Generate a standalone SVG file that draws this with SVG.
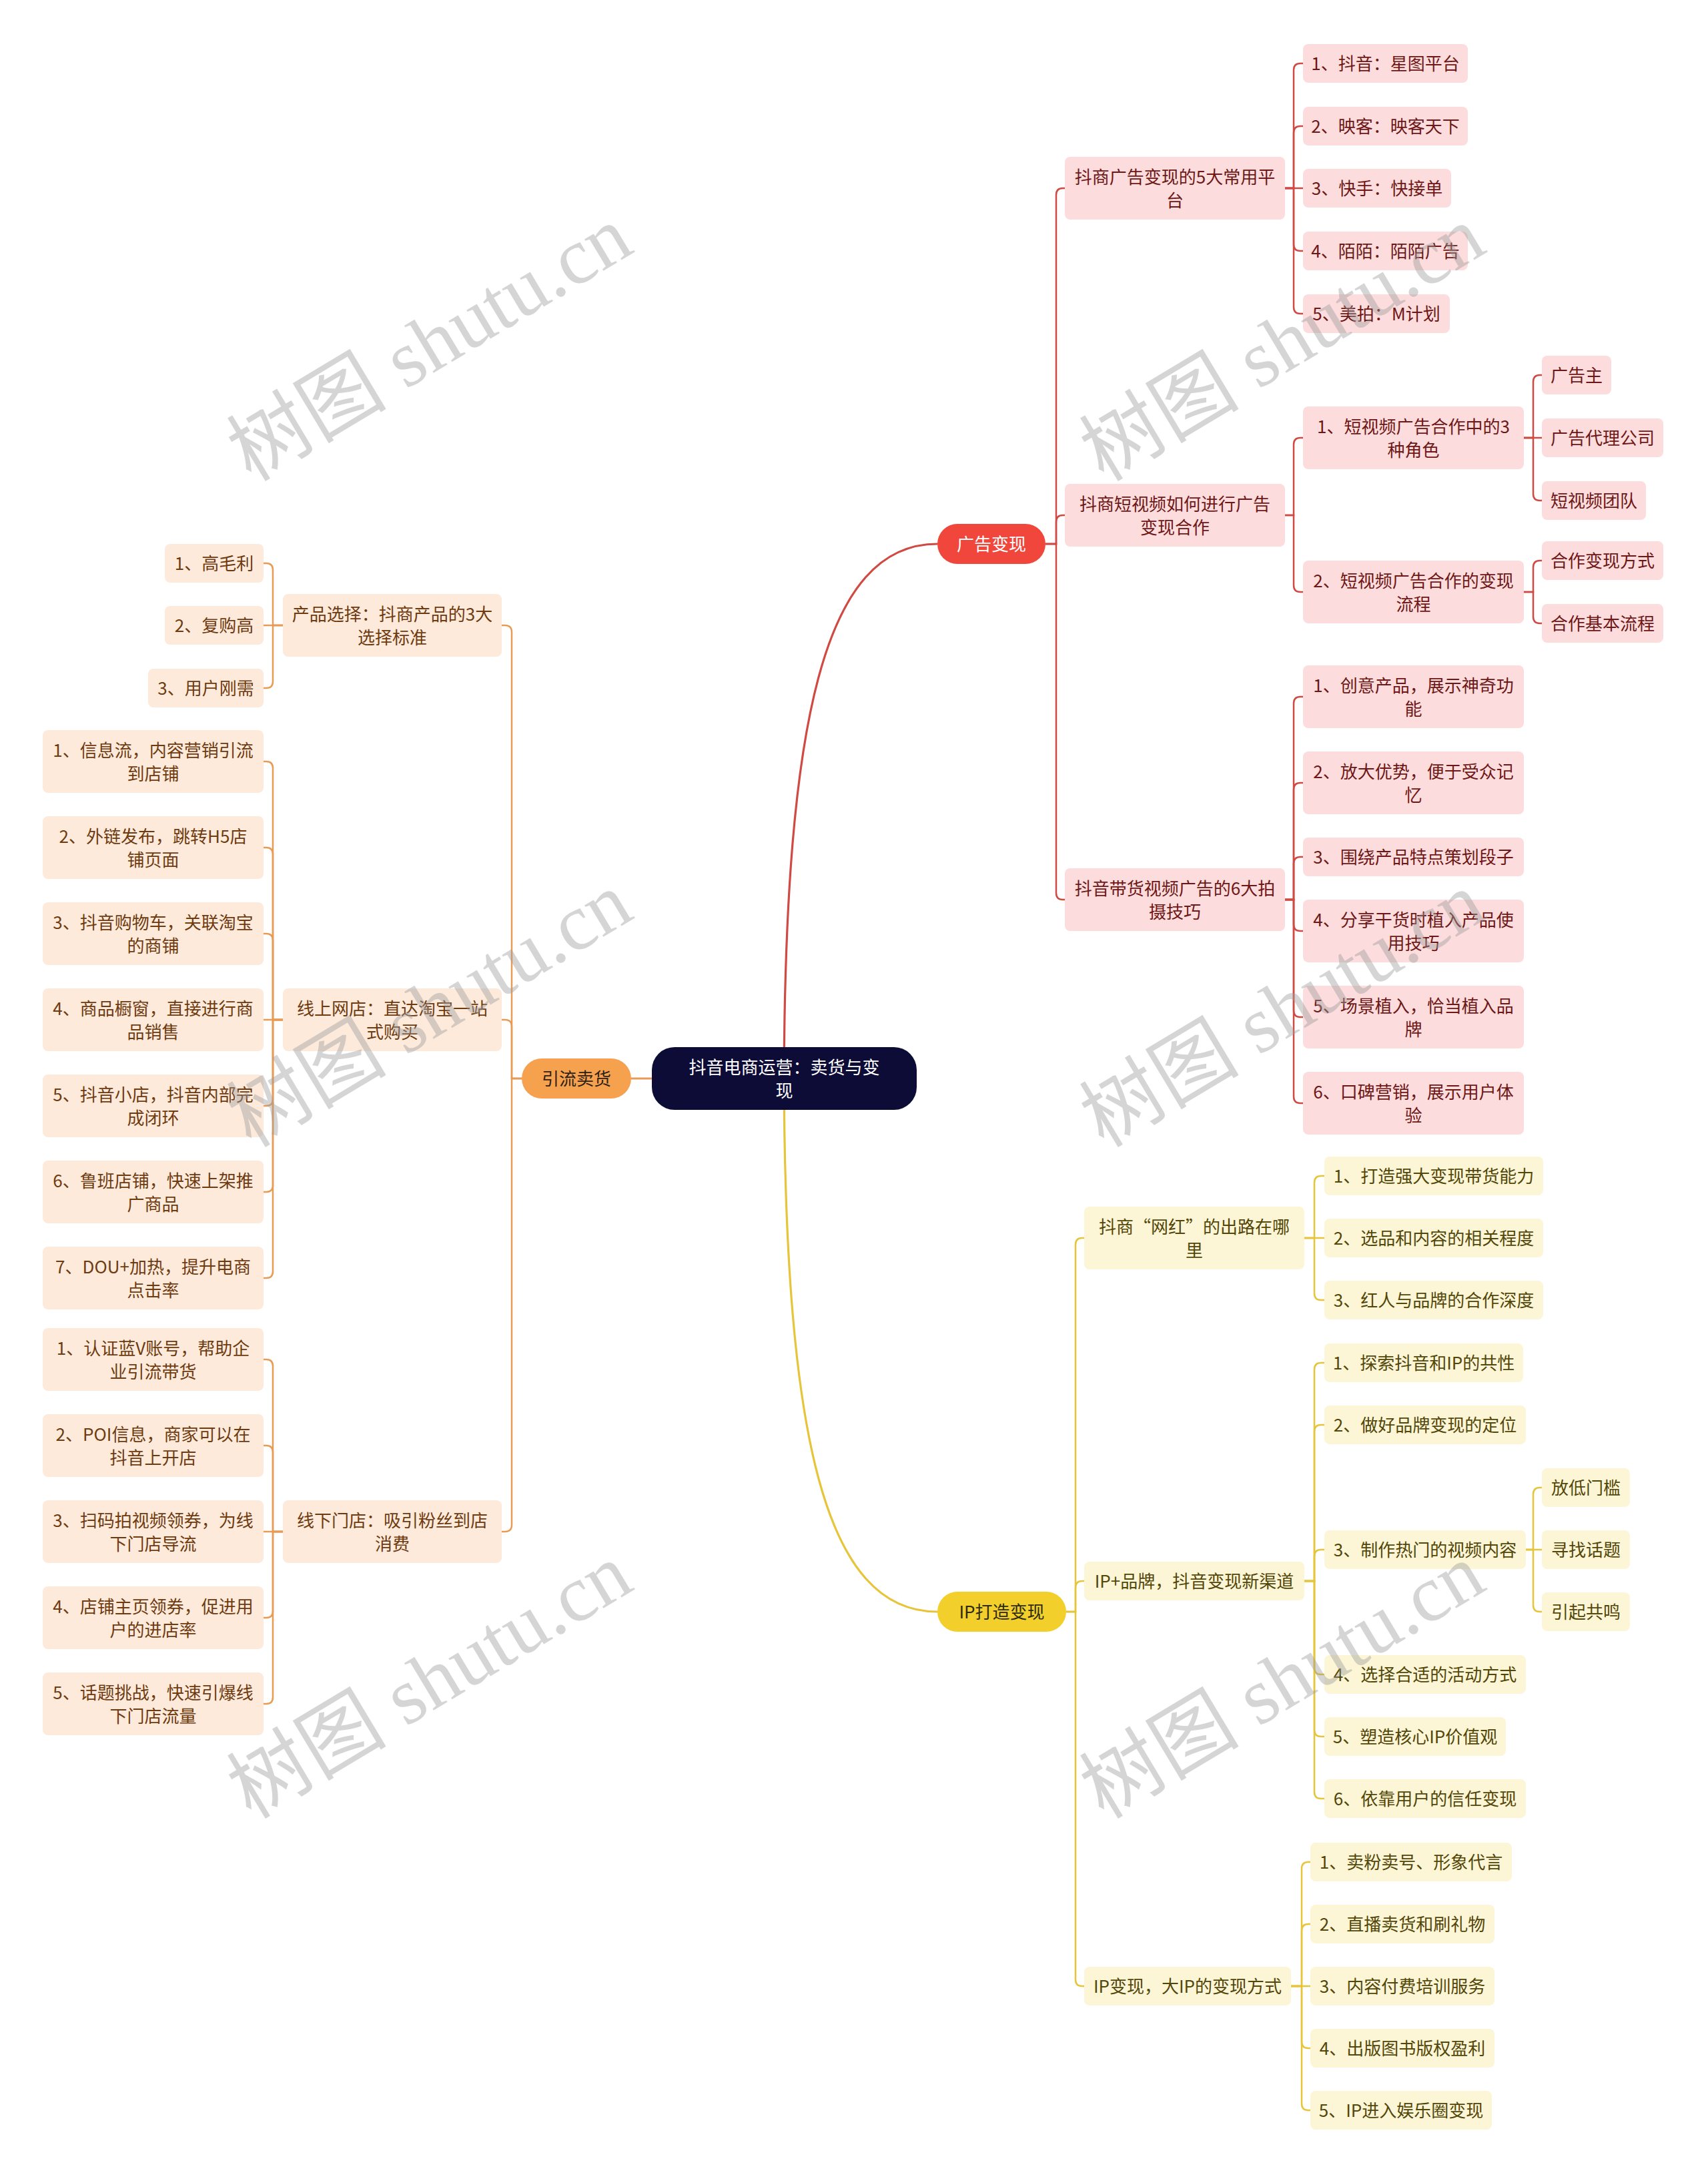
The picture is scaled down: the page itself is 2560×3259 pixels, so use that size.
<svg xmlns="http://www.w3.org/2000/svg" width="2560" height="3259" viewBox="0 0 2560 3259">
<style>
text{font-family:"Noto Sans CJK SC","Noto Sans",sans-serif;font-size:26px;text-anchor:middle;dominant-baseline:central}
.nd text{transform:translateY(-2px)}
.r rect{fill:#fcdcdc}.r text{fill:#6e1717}
.o rect{fill:#fdeadb}.o text{fill:#6e3b10}
.y rect{fill:#fcf5d6}.y text{fill:#524708}
.cr path{stroke:#d04a43}.co path{stroke:#e89b55}.cy path{stroke:#e6c53a}
.c path{fill:none;stroke-width:2.5}
.main{stroke-width:3.2 !important}
.wm{font-family:"Liberation Serif","Noto Sans CJK SC",serif;font-size:120px;fill:#9a9a9a;fill-opacity:0.42}
</style>
<rect width="2560" height="3259" fill="#ffffff"/>
<g id="connectors" class="c">
<g class="cr">
<path class="main" d="M1175 1616 C1177 1080 1235 815 1405 815"/>
<path d="M1567 815 H1583 V292 Q1583 282 1593 282 H1596"/>
<path d="M1567 815 H1583 V782 Q1583 772 1593 772 H1596"/>
<path d="M1567 815 H1583 V1338 Q1583 1348 1593 1348 H1596"/>
<path d="M1926 282 H1939 V105 Q1939 95 1949 95 H1953"/>
<path d="M1926 282 H1939 V199 Q1939 189 1949 189 H1953"/>
<path d="M1926 282 H1953"/>
<path d="M1926 282 H1939 V366 Q1939 376 1949 376 H1953"/>
<path d="M1926 282 H1939 V460 Q1939 470 1949 470 H1953"/>
<path d="M1926 772 H1939 V666 Q1939 656 1949 656 H1953"/>
<path d="M1926 772 H1939 V877 Q1939 887 1949 887 H1953"/>
<path d="M2284 656 H2298 V572 Q2298 562 2308 562 H2311"/>
<path d="M2284 656 H2311"/>
<path d="M2284 656 H2298 V740 Q2298 750 2308 750 H2311"/>
<path d="M2284 887 H2298 V850 Q2298 840 2308 840 H2311"/>
<path d="M2284 887 H2298 V924 Q2298 934 2308 934 H2311"/>
<path d="M1926 1348 H1939 V1054 Q1939 1044 1949 1044 H1953"/>
<path d="M1926 1348 H1939 V1183 Q1939 1173 1949 1173 H1953"/>
<path d="M1926 1348 H1939 V1294 Q1939 1284 1949 1284 H1953"/>
<path d="M1926 1348 H1939 V1385 Q1939 1395 1949 1395 H1953"/>
<path d="M1926 1348 H1939 V1514 Q1939 1524 1949 1524 H1953"/>
<path d="M1926 1348 H1939 V1643 Q1939 1653 1949 1653 H1953"/>
</g>
<g class="co">
<path class="main" d="M1175 1616 H946"/>
<path d="M782 1616 H767 V947 Q767 937 757 937 H752"/>
<path d="M782 1616 H767 V1538 Q767 1528 757 1528 H752"/>
<path d="M782 1616 H767 V2285 Q767 2295 757 2295 H752"/>
<path d="M424 937 H409 V854 Q409 844 399 844 H395"/>
<path d="M424 937 H395"/>
<path d="M424 937 H409 V1021 Q409 1031 399 1031 H395"/>
<path d="M424 1528 H409 V1151 Q409 1141 399 1141 H395"/>
<path d="M424 1528 H409 V1280 Q409 1270 399 1270 H395"/>
<path d="M424 1528 H409 V1409 Q409 1399 399 1399 H395"/>
<path d="M424 1528 H395"/>
<path d="M424 1528 H409 V1647 Q409 1657 399 1657 H395"/>
<path d="M424 1528 H409 V1776 Q409 1786 399 1786 H395"/>
<path d="M424 1528 H409 V1905 Q409 1915 399 1915 H395"/>
<path d="M424 2295 H409 V2047 Q409 2037 399 2037 H395"/>
<path d="M424 2295 H409 V2176 Q409 2166 399 2166 H395"/>
<path d="M424 2295 H395"/>
<path d="M424 2295 H409 V2414 Q409 2424 399 2424 H395"/>
<path d="M424 2295 H409 V2543 Q409 2553 399 2553 H395"/>
</g>
<g class="cy">
<path class="main" d="M1175 1616 C1177 2150 1235 2415 1405 2415"/>
<path d="M1598 2415 H1612 V1865 Q1612 1855 1622 1855 H1625"/>
<path d="M1598 2415 H1612 V2379 Q1612 2369 1622 2369 H1625"/>
<path d="M1598 2415 H1612 V2966 Q1612 2976 1622 2976 H1625"/>
<path d="M1955 1855 H1970 V1772 Q1970 1762 1980 1762 H1985"/>
<path d="M1955 1855 H1985"/>
<path d="M1955 1855 H1970 V1938 Q1970 1948 1980 1948 H1985"/>
<path d="M1955 2369 H1970 V2052 Q1970 2042 1980 2042 H1985"/>
<path d="M1955 2369 H1970 V2145 Q1970 2135 1980 2135 H1985"/>
<path d="M1955 2369 H1970 V2332 Q1970 2322 1980 2322 H1985"/>
<path d="M1955 2369 H1970 V2499 Q1970 2509 1980 2509 H1985"/>
<path d="M1955 2369 H1970 V2592 Q1970 2602 1980 2602 H1985"/>
<path d="M1955 2369 H1970 V2685 Q1970 2695 1980 2695 H1985"/>
<path d="M2287 2322 H2298 V2239 Q2298 2229 2308 2229 H2311"/>
<path d="M2287 2322 H2311"/>
<path d="M2287 2322 H2298 V2405 Q2298 2415 2308 2415 H2311"/>
<path d="M1935 2976 H1951 V2800 Q1951 2790 1961 2790 H1964"/>
<path d="M1935 2976 H1951 V2893 Q1951 2883 1961 2883 H1964"/>
<path d="M1935 2976 H1964"/>
<path d="M1935 2976 H1951 V3059 Q1951 3069 1961 3069 H1964"/>
<path d="M1935 2976 H1951 V3152 Q1951 3162 1961 3162 H1964"/>
</g>
</g>

<g class="nd">
<g id="root"><rect x="977" y="1569" width="397" height="94" rx="34" fill="#0c0c36"/><text x="1175.5" fill="#ffffff"><tspan x="1175.5" y="1598.5">抖音电商运营：卖货与变</tspan><tspan x="1175.5" y="1633.5">现</tspan></text></g>

<g id="n-ad"><rect x="1405" y="785" width="162" height="60" rx="30" fill="#f0463c"/><text x="1486" y="815" fill="#ffffff">广告变现</text></g>
<g id="n-traffic"><rect x="782" y="1586" width="164" height="60" rx="30" fill="#f5a14e"/><text x="864" y="1616" fill="#2e2218">引流卖货</text></g>
<g id="n-ip"><rect x="1405" y="2385" width="193" height="60" rx="30" fill="#f2cf2a"/><text x="1501.5" y="2415" fill="#2e2a10">IP打造变现</text></g>

<g id="a1" class="r"><rect x="1596" y="235" width="330" height="94" rx="8"/><text><tspan x="1761" y="264.5">抖商广告变现的5大常用平</tspan><tspan x="1761" y="299.5">台</tspan></text></g>
<g id="a2" class="r"><rect x="1596" y="725" width="330" height="94" rx="8"/><text><tspan x="1761" y="754.5">抖商短视频如何进行广告</tspan><tspan x="1761" y="789.5">变现合作</tspan></text></g>
<g id="a3" class="r"><rect x="1596" y="1301" width="330" height="94" rx="8"/><text><tspan x="1761" y="1330.5">抖音带货视频广告的6大拍</tspan><tspan x="1761" y="1365.5">摄技巧</tspan></text></g>

<g id="a1-1" class="r"><rect x="1953" y="66" width="247" height="58" rx="8"/><text x="2076.5" y="95">1、抖音：星图平台</text></g>
<g id="a1-2" class="r"><rect x="1953" y="160" width="247" height="58" rx="8"/><text x="2076.5" y="189">2、映客：映客天下</text></g>
<g id="a1-3" class="r"><rect x="1953" y="253" width="222" height="58" rx="8"/><text x="2064" y="282">3、快手：快接单</text></g>
<g id="a1-4" class="r"><rect x="1953" y="347" width="247" height="58" rx="8"/><text x="2076.5" y="376">4、陌陌：陌陌广告</text></g>
<g id="a1-5" class="r"><rect x="1953" y="441" width="220" height="58" rx="8"/><text x="2063" y="470">5、美拍：M计划</text></g>

<g id="a2-1" class="r"><rect x="1953" y="609" width="331" height="94" rx="8"/><text><tspan x="2118.5" y="638.5">1、短视频广告合作中的3</tspan><tspan x="2118.5" y="673.5">种角色</tspan></text></g>
<g id="a2-2" class="r"><rect x="1953" y="840" width="331" height="94" rx="8"/><text><tspan x="2118.5" y="869.5">2、短视频广告合作的变现</tspan><tspan x="2118.5" y="904.5">流程</tspan></text></g>
<g id="a2-1-1" class="r"><rect x="2311" y="533" width="104" height="58" rx="8"/><text x="2363" y="562">广告主</text></g>
<g id="a2-1-2" class="r"><rect x="2311" y="627" width="182" height="58" rx="8"/><text x="2402" y="656">广告代理公司</text></g>
<g id="a2-1-3" class="r"><rect x="2311" y="721" width="156" height="58" rx="8"/><text x="2389" y="750">短视频团队</text></g>
<g id="a2-2-1" class="r"><rect x="2311" y="811" width="182" height="58" rx="8"/><text x="2402" y="840">合作变现方式</text></g>
<g id="a2-2-2" class="r"><rect x="2311" y="905" width="182" height="58" rx="8"/><text x="2402" y="934">合作基本流程</text></g>

<g id="a3-1" class="r"><rect x="1953" y="997" width="331" height="94" rx="8"/><text><tspan x="2118.5" y="1026.5">1、创意产品，展示神奇功</tspan><tspan x="2118.5" y="1061.5">能</tspan></text></g>
<g id="a3-2" class="r"><rect x="1953" y="1126" width="331" height="94" rx="8"/><text><tspan x="2118.5" y="1155.5">2、放大优势，便于受众记</tspan><tspan x="2118.5" y="1190.5">忆</tspan></text></g>
<g id="a3-3" class="r"><rect x="1953" y="1255" width="331" height="58" rx="8"/><text x="2118.5" y="1284">3、围绕产品特点策划段子</text></g>
<g id="a3-4" class="r"><rect x="1953" y="1348" width="331" height="94" rx="8"/><text><tspan x="2118.5" y="1377.5">4、分享干货时植入产品使</tspan><tspan x="2118.5" y="1412.5">用技巧</tspan></text></g>
<g id="a3-5" class="r"><rect x="1953" y="1477" width="331" height="94" rx="8"/><text><tspan x="2118.5" y="1506.5">5、场景植入，恰当植入品</tspan><tspan x="2118.5" y="1541.5">牌</tspan></text></g>
<g id="a3-6" class="r"><rect x="1953" y="1606" width="331" height="94" rx="8"/><text><tspan x="2118.5" y="1635.5">6、口碑营销，展示用户体</tspan><tspan x="2118.5" y="1670.5">验</tspan></text></g>

<g id="c1" class="o"><rect x="424" y="890" width="328" height="94" rx="8"/><text><tspan x="588" y="919.5">产品选择：抖商产品的3大</tspan><tspan x="588" y="954.5">选择标准</tspan></text></g>
<g id="c2" class="o"><rect x="424" y="1481" width="328" height="94" rx="8"/><text><tspan x="588" y="1510.5">线上网店：直达淘宝一站</tspan><tspan x="588" y="1545.5">式购买</tspan></text></g>
<g id="c3" class="o"><rect x="424" y="2248" width="328" height="94" rx="8"/><text><tspan x="588" y="2277.5">线下门店：吸引粉丝到店</tspan><tspan x="588" y="2312.5">消费</tspan></text></g>

<g id="c1-1" class="o"><rect x="247" y="815" width="148" height="58" rx="8"/><text x="321" y="844">1、高毛利</text></g>
<g id="c1-2" class="o"><rect x="247" y="908" width="148" height="58" rx="8"/><text x="321" y="937">2、复购高</text></g>
<g id="c1-3" class="o"><rect x="222" y="1002" width="173" height="58" rx="8"/><text x="308.5" y="1031">3、用户刚需</text></g>

<g id="c2-1" class="o"><rect x="64" y="1094" width="331" height="94" rx="8"/><text><tspan x="229.5" y="1123.5">1、信息流，内容营销引流</tspan><tspan x="229.5" y="1158.5">到店铺</tspan></text></g>
<g id="c2-2" class="o"><rect x="64" y="1223" width="331" height="94" rx="8"/><text><tspan x="229.5" y="1252.5">2、外链发布，跳转H5店</tspan><tspan x="229.5" y="1287.5">铺页面</tspan></text></g>
<g id="c2-3" class="o"><rect x="64" y="1352" width="331" height="94" rx="8"/><text><tspan x="229.5" y="1381.5">3、抖音购物车，关联淘宝</tspan><tspan x="229.5" y="1416.5">的商铺</tspan></text></g>
<g id="c2-4" class="o"><rect x="64" y="1481" width="331" height="94" rx="8"/><text><tspan x="229.5" y="1510.5">4、商品橱窗，直接进行商</tspan><tspan x="229.5" y="1545.5">品销售</tspan></text></g>
<g id="c2-5" class="o"><rect x="64" y="1610" width="331" height="94" rx="8"/><text><tspan x="229.5" y="1639.5">5、抖音小店，抖音内部完</tspan><tspan x="229.5" y="1674.5">成闭环</tspan></text></g>
<g id="c2-6" class="o"><rect x="64" y="1739" width="331" height="94" rx="8"/><text><tspan x="229.5" y="1768.5">6、鲁班店铺，快速上架推</tspan><tspan x="229.5" y="1803.5">广商品</tspan></text></g>
<g id="c2-7" class="o"><rect x="64" y="1868" width="331" height="94" rx="8"/><text><tspan x="229.5" y="1897.5">7、DOU+加热，提升电商</tspan><tspan x="229.5" y="1932.5">点击率</tspan></text></g>

<g id="c3-1" class="o"><rect x="64" y="1990" width="331" height="94" rx="8"/><text><tspan x="229.5" y="2019.5">1、认证蓝V账号，帮助企</tspan><tspan x="229.5" y="2054.5">业引流带货</tspan></text></g>
<g id="c3-2" class="o"><rect x="64" y="2119" width="331" height="94" rx="8"/><text><tspan x="229.5" y="2148.5">2、POI信息，商家可以在</tspan><tspan x="229.5" y="2183.5">抖音上开店</tspan></text></g>
<g id="c3-3" class="o"><rect x="64" y="2248" width="331" height="94" rx="8"/><text><tspan x="229.5" y="2277.5">3、扫码拍视频领券，为线</tspan><tspan x="229.5" y="2312.5">下门店导流</tspan></text></g>
<g id="c3-4" class="o"><rect x="64" y="2377" width="331" height="94" rx="8"/><text><tspan x="229.5" y="2406.5">4、店铺主页领券，促进用</tspan><tspan x="229.5" y="2441.5">户的进店率</tspan></text></g>
<g id="c3-5" class="o"><rect x="64" y="2506" width="331" height="94" rx="8"/><text><tspan x="229.5" y="2535.5">5、话题挑战，快速引爆线</tspan><tspan x="229.5" y="2570.5">下门店流量</tspan></text></g>

<g id="d1" class="y"><rect x="1625" y="1808" width="330" height="94" rx="8"/><text><tspan x="1790" y="1837.5">抖商“网红”的出路在哪</tspan><tspan x="1790" y="1872.5">里</tspan></text></g>
<g id="d2" class="y"><rect x="1625" y="2340" width="330" height="58" rx="8"/><text x="1790" y="2369">IP+品牌，抖音变现新渠道</text></g>
<g id="d3" class="y"><rect x="1625" y="2947" width="310" height="58" rx="8"/><text x="1780" y="2976">IP变现，大IP的变现方式</text></g>

<g id="d1-1" class="y"><rect x="1985" y="1733" width="328" height="58" rx="8"/><text x="2149" y="1762">1、打造强大变现带货能力</text></g>
<g id="d1-2" class="y"><rect x="1985" y="1826" width="328" height="58" rx="8"/><text x="2149" y="1855">2、选品和内容的相关程度</text></g>
<g id="d1-3" class="y"><rect x="1985" y="1919" width="328" height="58" rx="8"/><text x="2149" y="1948">3、红人与品牌的合作深度</text></g>

<g id="d2-1" class="y"><rect x="1985" y="2013" width="298" height="58" rx="8"/><text x="2134" y="2042">1、探索抖音和IP的共性</text></g>
<g id="d2-2" class="y"><rect x="1985" y="2106" width="302" height="58" rx="8"/><text x="2136" y="2135">2、做好品牌变现的定位</text></g>
<g id="d2-3" class="y"><rect x="1985" y="2293" width="302" height="58" rx="8"/><text x="2136" y="2322">3、制作热门的视频内容</text></g>
<g id="d2-4" class="y"><rect x="1985" y="2480" width="302" height="58" rx="8"/><text x="2136" y="2509">4、选择合适的活动方式</text></g>
<g id="d2-5" class="y"><rect x="1985" y="2573" width="272" height="58" rx="8"/><text x="2121" y="2602">5、塑造核心IP价值观</text></g>
<g id="d2-6" class="y"><rect x="1985" y="2666" width="302" height="58" rx="8"/><text x="2136" y="2695">6、依靠用户的信任变现</text></g>

<g id="d2-3-1" class="y"><rect x="2311" y="2200" width="132" height="58" rx="8"/><text x="2377" y="2229">放低门槛</text></g>
<g id="d2-3-2" class="y"><rect x="2311" y="2293" width="132" height="58" rx="8"/><text x="2377" y="2322">寻找话题</text></g>
<g id="d2-3-3" class="y"><rect x="2311" y="2386" width="132" height="58" rx="8"/><text x="2377" y="2415">引起共鸣</text></g>

<g id="d3-1" class="y"><rect x="1964" y="2761" width="302" height="58" rx="8"/><text x="2115" y="2790">1、卖粉卖号、形象代言</text></g>
<g id="d3-2" class="y"><rect x="1964" y="2854" width="276" height="58" rx="8"/><text x="2102" y="2883">2、直播卖货和刷礼物</text></g>
<g id="d3-3" class="y"><rect x="1964" y="2947" width="276" height="58" rx="8"/><text x="2102" y="2976">3、内容付费培训服务</text></g>
<g id="d3-4" class="y"><rect x="1964" y="3040" width="276" height="58" rx="8"/><text x="2102" y="3069">4、出版图书版权盈利</text></g>
<g id="d3-5" class="y"><rect x="1964" y="3133" width="272" height="58" rx="8"/><text x="2100" y="3162">5、IP进入娱乐圈变现</text></g>
</g>

<g id="watermarks">
<text class="wm" transform="translate(644 515) rotate(-31)">树图 shutu.cn</text>
<text class="wm" transform="translate(1922 515) rotate(-31)">树图 shutu.cn</text>
<text class="wm" transform="translate(644 1513) rotate(-31)">树图 shutu.cn</text>
<text class="wm" transform="translate(1922 1513) rotate(-31)">树图 shutu.cn</text>
<text class="wm" transform="translate(644 2519) rotate(-31)">树图 shutu.cn</text>
<text class="wm" transform="translate(1922 2519) rotate(-31)">树图 shutu.cn</text>
</g>
</svg>
